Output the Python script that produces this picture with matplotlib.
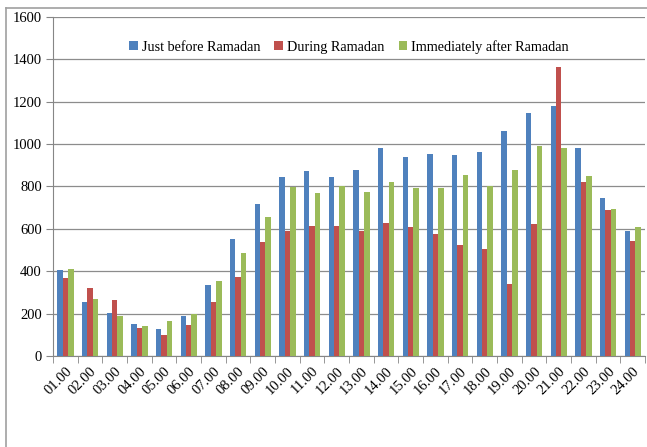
import numpy as np
import matplotlib.pyplot as plt
from matplotlib.lines import Line2D

hours = ["01.00", "02.00", "03.00", "04.00", "05.00", "06.00", "07.00", "08.00",
         "09.00", "10.00", "11.00", "12.00", "13.00", "14.00", "15.00", "16.00",
         "17.00", "18.00", "19.00", "20.00", "21.00", "22.00", "23.00", "24.00"]
before = [405, 255, 202, 150, 127, 187, 337, 553, 715, 843, 875, 843,
          880, 983, 940, 952, 950, 965, 1062, 1148, 1180, 983, 748, 588]
during = [370, 320, 263, 132, 100, 145, 257, 373, 538, 588, 615, 612,
          588, 630, 610, 578, 522, 503, 338, 622, 1362, 822, 688, 545]
after = [410, 268, 190, 143, 165, 200, 355, 485, 655, 798, 768, 800,
         775, 820, 793, 795, 855, 800, 880, 990, 980, 850, 693, 610]
names = ["Just before Ramadan", "During Ramadan", "Immediately after Ramadan"]
colors = ["#4F81BD", "#C0504D", "#9BBB59"]

plt.rcParams['font.family'] = ['Liberation Serif', 'DejaVu Serif']

fig = plt.figure(figsize=(6.47, 4.47), dpi=100)
ax = fig.add_axes([0.082, 0.2036, 0.915, 0.7584])

x = np.arange(len(hours))
w = 0.22
for i, (vals, name) in enumerate(zip([before, during, after], names)):
    ax.bar(x + (i - 1) * w, vals, width=w, color=colors[i], label=name, zorder=3)

ax.set_ylim(0, 1600)
ax.set_yticks(range(0, 1601, 200))
ax.set_xlim(-0.5, len(hours) - 0.5)
ax.set_xticks(x)
ax.set_xticklabels(hours, rotation=45, ha='right', rotation_mode='anchor')
ax.set_xticks(np.arange(-0.5, len(hours)), minor=True)
ax.tick_params(axis='x', which='major', length=0, labelsize=10.5, pad=6)
ax.tick_params(axis='x', which='minor', length=5, color='#868686')
ax.tick_params(axis='y', length=5, color='#868686', labelsize=10.5, pad=3)

ax.grid(axis='y', color='#8c8c8c', linewidth=0.9, zorder=0)
for s in ['top', 'right']:
    ax.spines[s].set_visible(False)
for s in ['left', 'bottom']:
    ax.spines[s].set_color('#868686')

ax.legend(loc='upper center', bbox_to_anchor=(0.5, 0.97), ncol=3, frameon=False,
          fontsize=10.2, handlelength=0.6, handleheight=0.6, handletextpad=0.3,
          columnspacing=1.0)

# outer chart frame
fig.add_artist(Line2D([0.0095, 0.0095], [0, 0.982], color='#a0a0a0', lw=1.2))
fig.add_artist(Line2D([0.0095, 1.0], [0.982, 0.982], color='#a0a0a0', lw=1.2))

fig.savefig('out.png', dpi=100)
